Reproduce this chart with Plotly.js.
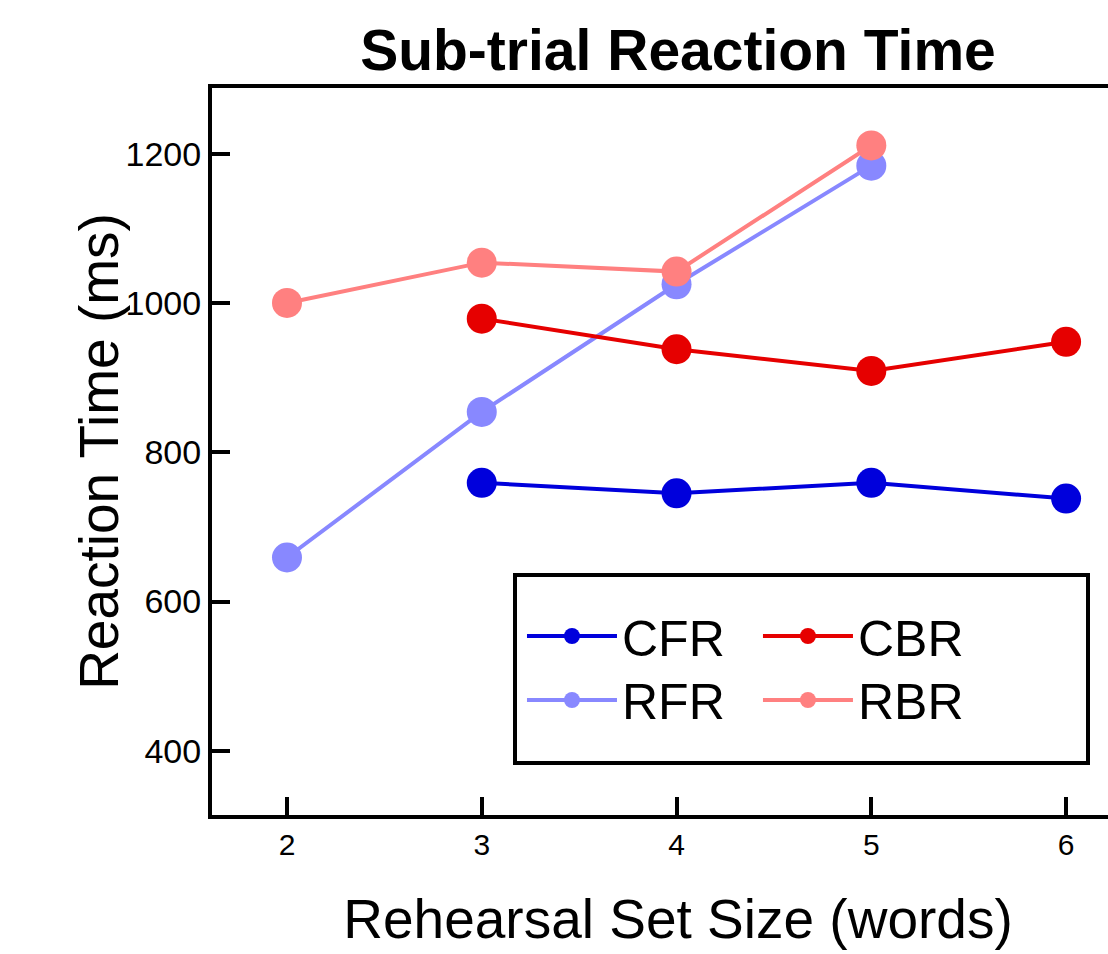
<!DOCTYPE html>
<html>
<head>
<meta charset="utf-8">
<script src="https://cdn.plot.ly/plotly-3.0.1.min.js"></script>
<style>
html, body { margin: 0; padding: 0; overflow: hidden; background: #fff; }
#chart { width: 1200px; height: 954px; }
</style>
</head>
<body>
<div id="chart"></div>
<script>
// ---- data ----
const setSizes = [2, 3, 4, 5, 6];
const seriesNames = ['CFR', 'RFR', 'CBR', 'RBR'];
const cfrX = [3, 4, 5, 6];
const cfrY = [759, 745, 759, 738];
const rfrX = [2, 3, 4, 5];
const rfrY = [659, 854, 1025, 1184];
const cbrX = [3, 4, 5, 6];
const cbrY = [979, 938, 909, 948];
const rbrX = [2, 3, 4, 5];
const rbrY = [1000, 1054, 1042, 1211];
const yTicks = [400, 600, 800, 1000, 1200];

const colors = { CFR: '#0000dc', RFR: '#8888ff', CBR: '#e60000', RBR: '#ff8080' };
const legendIds = { CFR: 'legend', CBR: 'legend2', RFR: 'legend3', RBR: 'legend4' };
const xs = { CFR: cfrX, RFR: rfrX, CBR: cbrX, RBR: rbrX };
const ys = { CFR: cfrY, RFR: rfrY, CBR: cbrY, RBR: rbrY };

const traces = seriesNames.map(n => ({
  type: 'scatter', mode: 'lines+markers', name: n,
  x: xs[n], y: ys[n],
  line: { color: colors[n], width: 4 },
  marker: { color: colors[n], size: 30 },
  legend: legendIds[n]
}));

const FONT = 'Liberation Sans, Arial, sans-serif';
const legendBase = (x, y) => ({
  x: x, y: y, xanchor: 'left', yanchor: 'middle', xref: 'paper', yref: 'paper',
  bgcolor: 'rgba(0,0,0,0)', borderwidth: 0, itemwidth: 90,
  font: { family: FONT, size: 50, color: '#000' }
});

const layout = {
  width: 1200, height: 954,
  margin: { l: 212, r: 56, t: 88, b: 139 },
  paper_bgcolor: '#fff', plot_bgcolor: '#fff',
  font: { family: FONT, color: '#000' },
  title: {
    text: 'Sub-trial Reaction Time',
    font: { family: FONT, size: 57, weight: 'bold', color: '#000' },
    xref: 'paper', x: 0.5, xanchor: 'center',
    yref: 'container', y: 1 - 50 / 954, yanchor: 'middle'
  },
  xaxis: {
    range: [1.615, 6.4], tickvals: setSizes, ticktext: setSizes.map(String),
    showgrid: false, zeroline: false,
    showline: true, linecolor: '#000', linewidth: 4, mirror: true,
    ticks: 'inside', ticklen: 18, tickwidth: 4, tickcolor: '#000',
    tickfont: { family: FONT, size: 30, color: '#000' },
    title: { text: 'Rehearsal Set Size (words)', font: { family: FONT, size: 55, color: '#000' }, standoff: 40 }
  },
  yaxis: {
    range: [314, 1288], tickvals: yTicks, ticktext: yTicks.map(String),
    showgrid: false, zeroline: false,
    showline: true, linecolor: '#000', linewidth: 4, mirror: true,
    ticks: 'inside', ticklen: 18, tickwidth: 4, tickcolor: '#000',
    tickfont: { family: FONT, size: 34, color: '#000' },
    title: { text: 'Reaction Time (ms)', font: { family: FONT, size: 55, color: '#000' }, standoff: 0 }
  },
  showlegend: true,
  legend: legendBase(0.3326, 0.2462),
  legend2: legendBase(0.5858, 0.2462),
  legend3: legendBase(0.3326, 0.1582),
  legend4: legendBase(0.5858, 0.1582),
  shapes: [{
    type: 'rect', xref: 'paper', yref: 'paper',
    x0: (515 - 212) / 932, x1: (1088 - 212) / 932,
    y0: (815 - 763) / 727, y1: (815 - 575) / 727,
    line: { color: '#000', width: 4 }, fillcolor: 'rgba(0,0,0,0)', layer: 'above'
  }]
};

Plotly.newPlot('chart', traces, layout, { displayModeBar: false, staticPlot: true }).then(gd => {
  // y-axis title sits a little closer to the axis in the original (overlapping tick labels)
  gd.querySelectorAll('g.g-ytitle').forEach(g => g.setAttribute('transform', 'translate(10,0)'));
});
</script>
</body>
</html>
